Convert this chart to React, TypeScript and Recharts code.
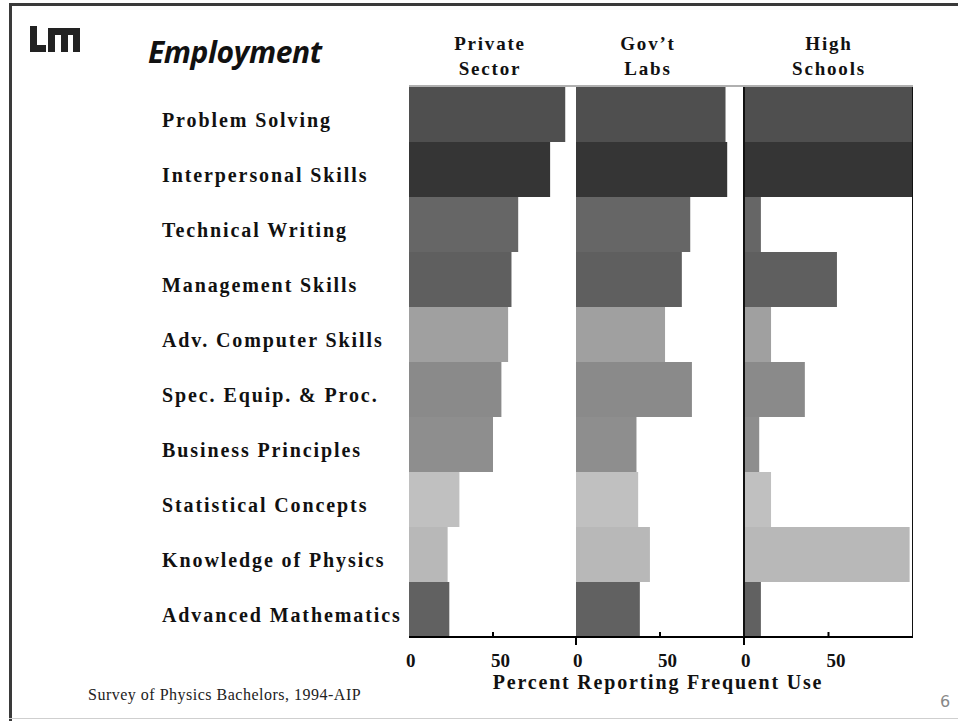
import { Bar, BarChart, Cell, ReferenceLine, XAxis, YAxis } from "recharts";

const skills = [
  "Problem Solving",
  "Interpersonal Skills",
  "Technical Writing",
  "Management Skills",
  "Adv. Computer Skills",
  "Spec. Equip. & Proc.",
  "Business Principles",
  "Statistical Concepts",
  "Knowledge of Physics",
  "Advanced Mathematics",
];
const privateSector = [93, 84, 65, 61, 59, 55, 50, 30, 23, 24];
const govLabs = [89, 90, 68, 63, 53, 69, 36, 37, 44, 38];
const highSchools = [100, 100, 10, 55, 16, 36, 9, 16, 98, 10];
const xTicks = [0, 50];
const panelTitles = [
  ["Private", "Sector"],
  ["Gov\u2019t", "Labs"],
  ["High", "Schools"],
];

// one grey per skill row, same across the three panels
const rowGreys = [
  "#4f4f4f",
  "#353535",
  "#666666",
  "#5f5f5f",
  "#a0a0a0",
  "#8a8a8a",
  "#8e8e8e",
  "#c0c0c0",
  "#b8b8b8",
  "#616161",
];

const SERIF = '"Liberation Serif", "Times New Roman", serif';
const PLOT_TOP = 87;
const CHART_H = 721;
const PAD = 12; // room left of panels 2 and 3 for their "0" labels

const rows = (values: number[]) => skills.map((skill, i) => ({ skill, value: values[i] }));

function SkillTick({ y, payload }: { y?: number; payload?: { value?: string } }) {
  return (
    <text
      x={162}
      y={(y ?? 0) + 12}
      fontFamily={SERIF}
      fontWeight="bold"
      fontSize={20}
      letterSpacing={1.9}
      fill="#111"
      textAnchor="start"
    >
      {payload?.value}
    </text>
  );
}

function makeXTick(panel: number) {
  return function XTick({ x, y, payload }: { x?: number; y?: number; payload?: { value?: number } }) {
    const px = x ?? 0;
    const py = y ?? 0;
    const v = payload?.value ?? 0;
    return (
      <g>
        {v === 0 && panel > 0 ? <line x1={px} x2={px} y1={py} y2={py + 8} stroke="#000" strokeWidth={2} /> : null}
        {v !== 0 ? <line x1={px} x2={px} y1={py - 5} y2={py} stroke="#000" strokeWidth={2} /> : null}
        <text
          x={px - (v === 0 ? 3 : 2)}
          y={py + 30}
          fontFamily={SERIF}
          fontWeight="bold"
          fontSize={19}
          fill="#111"
          textAnchor="start"
        >
          {v}
        </text>
      </g>
    );
  };
}

function Panel({
  values,
  panel,
  left,
  width,
  axisWidth,
}: {
  values: number[];
  panel: number;
  left: number;
  width: number;
  axisWidth: number;
}) {
  const pad = panel > 0 ? PAD : 0;
  return (
    <div style={{ position: "absolute", left: left - pad, top: 0 }}>
      <BarChart
        width={width + pad}
        height={CHART_H}
        data={rows(values)}
        layout="vertical"
        barCategoryGap={0}
        margin={{ top: PLOT_TOP, right: 0, bottom: 54, left: pad }}
      >
        <XAxis
          type="number"
          domain={[0, 100]}
          ticks={xTicks}
          interval={0}
          allowDataOverflow
          tickLine={false}
          tickSize={0}
          tickMargin={0}
          height={30}
          axisLine={{ stroke: "#000", strokeWidth: 2 }}
          tick={makeXTick(panel)}
        />
        <YAxis
          type="category"
          dataKey="skill"
          width={axisWidth}
          hide={axisWidth === 0}
          axisLine={false}
          tickLine={false}
          tick={<SkillTick />}
        />
        <Bar dataKey="value" isAnimationActive={false}>
          {values.map((_, i) => (
            <Cell key={i} fill={rowGreys[i]} />
          ))}
        </Bar>
        {panel === 2 ? <ReferenceLine x={0} stroke="#111" strokeWidth={2} /> : null}
        {panel === 2 ? <ReferenceLine x={100} stroke="#111" strokeWidth={2} /> : null}
      </BarChart>
    </div>
  );
}

function Logo() {
  return (
    <svg width={52} height={30} style={{ position: "absolute", left: 30, top: 24 }}>
      <path d="M0 2 H7 V21 H16 V28 H0 Z" fill="#222" />
      <path d="M18 4 H50 V28 H43 V11 H38 V28 H31 V11 H25 V28 H18 Z" fill="#222" />
    </svg>
  );
}

export default function App() {
  const headerCenters = [490, 648, 829];
  return (
    <div
      style={{
        position: "absolute",
        left: 0,
        top: 0,
        width: 958,
        height: 721,
        background: "#fff",
        overflow: "hidden",
      }}
    >
      {/* slide frame */}
      <div style={{ position: "absolute", left: 9, top: 3, width: 960, height: 3, background: "#3a3a3a" }} />
      <div style={{ position: "absolute", left: 9, top: 3, width: 3, height: 720, background: "#3a3a3a" }} />
      <div style={{ position: "absolute", left: 9, top: 718, width: 960, height: 1, background: "#cfcfcf" }} />
      <div style={{ position: "absolute", left: 409, top: 85, width: 504, height: 2, background: "#b0b0b0" }} />

      <Logo />
      <div
        style={{
          position: "absolute",
          left: 148,
          top: 33,
          fontFamily: '"Open Sans", "DejaVu Sans", sans-serif',
          fontStyle: "italic",
          fontWeight: 700,
          fontSize: 30,
          letterSpacing: -0.4,
          color: "#111",
          lineHeight: "38px",
        }}
      >
        Employment
      </div>

      {panelTitles.map((lines, i) => (
        <div
          key={i}
          style={{
            position: "absolute",
            left: headerCenters[i] - 80,
            width: 160,
            top: 31,
            textAlign: "center",
            fontFamily: SERIF,
            fontWeight: "bold",
            fontSize: 19,
            lineHeight: "25px",
            letterSpacing: 1.8,
            color: "#111",
          }}
        >
          {lines[0]}
          <br />
          {lines[1]}
        </div>
      ))}

      <Panel values={privateSector} panel={0} left={0} width={577} axisWidth={409} />
      <Panel values={govLabs} panel={1} left={576} width={168} axisWidth={0} />
      <Panel values={highSchools} panel={2} left={744} width={169} axisWidth={0} />

      <div
        style={{
          position: "absolute",
          left: 458,
          width: 400,
          top: 670,
          textAlign: "center",
          fontFamily: SERIF,
          fontWeight: "bold",
          fontSize: 20,
          letterSpacing: 1.8,
          color: "#111",
          lineHeight: "24px",
        }}
      >
        Percent Reporting Frequent Use
      </div>
      <div
        style={{
          position: "absolute",
          left: 88,
          top: 685,
          fontFamily: SERIF,
          fontSize: 16,
          letterSpacing: 0.5,
          color: "#222",
          lineHeight: "20px",
        }}
      >
        Survey of Physics Bachelors, 1994-AIP
      </div>
      <div
        style={{
          position: "absolute",
          left: 940,
          top: 692,
          fontFamily: '"DejaVu Sans", sans-serif',
          fontSize: 16,
          color: "#888",
          lineHeight: "20px",
        }}
      >
        6
      </div>
    </div>
  );
}
